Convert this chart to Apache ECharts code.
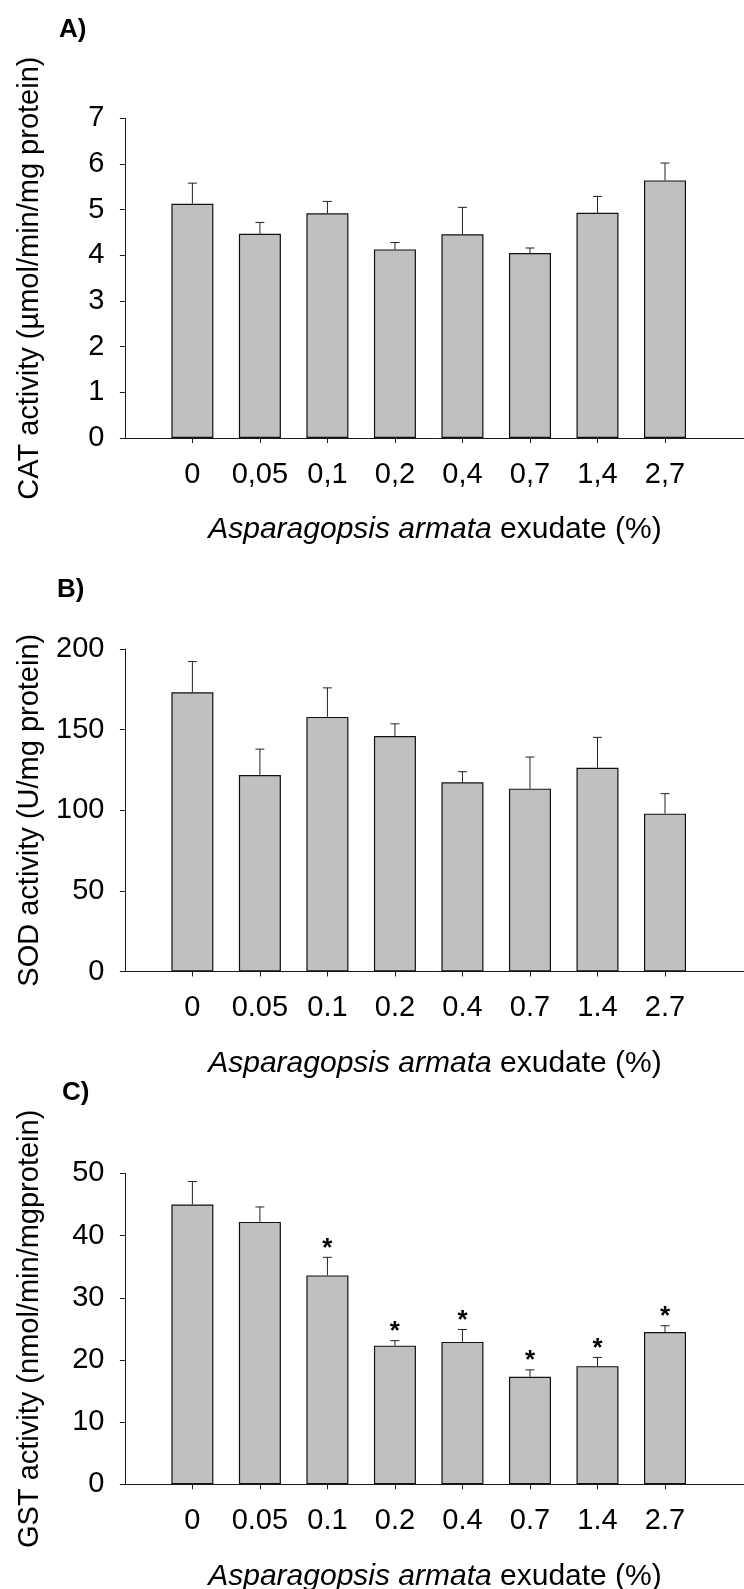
<!DOCTYPE html>
<html>
<head>
<meta charset="utf-8">
<script src="https://cdn.jsdelivr.net/npm/echarts@6/dist/echarts.min.js"></script>
<style>
  html, body { margin: 0; padding: 0; background: #fff; }
  #chart { width: 744px; height: 1589px; }
</style>
</head>
<body>
<div id="chart"></div>
<script>
// exudate concentrations (%), panel A uses decimal commas
var dosesComma = ['0', '0,05', '0,1', '0,2', '0,4', '0,7', '1,4', '2,7'];
var dosesDot = ['0', '0.05', '0.1', '0.2', '0.4', '0.7', '1.4', '2.7'];

// A) CAT activity, mean and error (upper bar only)
var catMean = [5.13, 4.47, 4.92, 4.13, 4.46, 4.05, 4.93, 5.64];
var catErr = [0.45, 0.25, 0.26, 0.15, 0.59, 0.11, 0.36, 0.38];

// B) SOD activity
var sodMean = [173.2, 121.9, 157.9, 146.0, 117.3, 113.4, 126.4, 97.9];
var sodErr = [19.0, 16.0, 18.0, 7.6, 6.6, 19.6, 18.8, 12.4];

// C) GST activity + significance marks
var gstMean = [45.0, 42.2, 33.6, 22.3, 22.9, 17.3, 19.0, 24.5];
var gstErr = [3.7, 2.4, 2.9, 0.8, 2.0, 1.1, 1.4, 1.0];
var gstSig = [false, false, true, true, true, true, true, true];

var positions = [1, 2, 3, 4, 5, 6, 7, 8];

var FONT = '"Liberation Sans", Arial, Helvetica, sans-serif';
var AXIS_COLOR = '#1a1a1a';

var chart = echarts.init(document.getElementById('chart'), null, { renderer: 'canvas' });

var panels = [
	{ top: 118.3, height: 319.7, max: 7, interval: 1, labels: dosesComma, mean: catMean, err: catErr, sig: null,
		name: 'CAT activity (\u00b5mol/min/mg protein)', tag: 'A)', tagX: 59, tagY: 31 },
	{ top: 649, height: 322.5, max: 200, interval: 50, labels: dosesDot, mean: sodMean, err: sodErr, sig: null,
		name: 'SOD activity (U/mg protein)', tag: 'B)', tagX: 57, tagY: 591 },
	{ top: 1173.4, height: 310.9, max: 50, interval: 10, labels: dosesDot, mean: gstMean, err: gstErr, sig: gstSig,
		name: 'GST activity (nmol/min/mgprotein)', tag: 'C)', tagX: 62, tagY: 1094 }
];

var grids = [], xAxes = [], yAxes = [], series = [], graphics = [];

panels.forEach(function (p, k) {
	grids.push({ left: 122.5, top: p.top, width: 640, height: p.height });

	xAxes.push({
		gridIndex: k,
		type: 'value',
		min: -0.035,
		max: 9.17,
		splitLine: { show: false },
		axisLine: { onZero: false, lineStyle: { color: AXIS_COLOR, width: 1 } },
		axisTick: { show: true, length: 5, customValues: positions, lineStyle: { color: AXIS_COLOR } },
		axisLabel: {
			customValues: positions,
			margin: 22,
			fontFamily: FONT,
			fontSize: 29,
			color: '#000',
			formatter: function (v) { return p.labels[Math.round(v) - 1]; }
		}
	});

	yAxes.push({
		gridIndex: k,
		type: 'value',
		min: 0,
		max: p.max,
		interval: p.interval,
		splitLine: { show: false },
		axisLine: { show: true, lineStyle: { color: AXIS_COLOR, width: 1 } },
		axisTick: { show: true, length: 5, lineStyle: { color: AXIS_COLOR } },
		axisLabel: { margin: 18, fontFamily: FONT, fontSize: 29, color: '#000' },
		name: p.name,
		nameLocation: 'middle',
		nameGap: 78,
		nameTextStyle: { fontFamily: FONT, fontSize: 29, color: '#000' }
	});

	series.push({
		type: 'bar',
		xAxisIndex: k,
		yAxisIndex: k,
		barWidth: 42,
		itemStyle: { color: '#c0c0c0', borderColor: '#111', borderWidth: 1.2 },
		data: p.mean.map(function (m, i) { return [positions[i], m]; }),
		silent: true
	});

	series.push({
		type: 'custom',
		xAxisIndex: k,
		yAxisIndex: k,
		silent: true,
		z: 3,
		data: p.mean.map(function (m, i) { return [positions[i], m, m + p.err[i], p.sig && p.sig[i] ? 1 : 0]; }),
		renderItem: function (params, api) {
			var base = api.coord([api.value(0), api.value(1)]);
			var top = api.coord([api.value(0), api.value(2)]);
			var style = { stroke: '#222', lineWidth: 1 };
			var children = [
				{ type: 'line', shape: { x1: base[0], y1: base[1], x2: top[0], y2: top[1] }, style: style },
				{ type: 'line', shape: { x1: top[0] - 4.5, y1: top[1], x2: top[0] + 4.5, y2: top[1] }, style: style }
			];
			if (api.value(3)) {
				children.push({
					type: 'text',
					style: {
						text: '*', x: top[0], y: top[1] - 9,
						textAlign: 'center', textVerticalAlign: 'middle',
						font: 'bold 26px ' + FONT, fill: '#000'
					}
				});
			}
			return { type: 'group', children: children };
		}
	});

	// panel tag
	graphics.push({
		type: 'text', left: p.tagX, top: p.tagY - 14,
		style: { text: p.tag, font: 'bold 26px ' + FONT, fill: '#000' }
	});

	// x axis title (partly italic)
	graphics.push({
		type: 'text',
		x: 435, y: p.top + p.height + 92,
		style: {
			text: '{i|Asparagopsis armata} exudate (%)',
			textAlign: 'center', textVerticalAlign: 'middle',
			font: '30px ' + FONT, fill: '#000',
			rich: { i: { fontStyle: 'italic', fontFamily: FONT, fontSize: 30, fill: '#000' } }
		}
	});
});

chart.setOption({
	animation: false,
	grid: grids,
	xAxis: xAxes,
	yAxis: yAxes,
	series: series,
	graphic: graphics
});
</script>
</body>
</html>
